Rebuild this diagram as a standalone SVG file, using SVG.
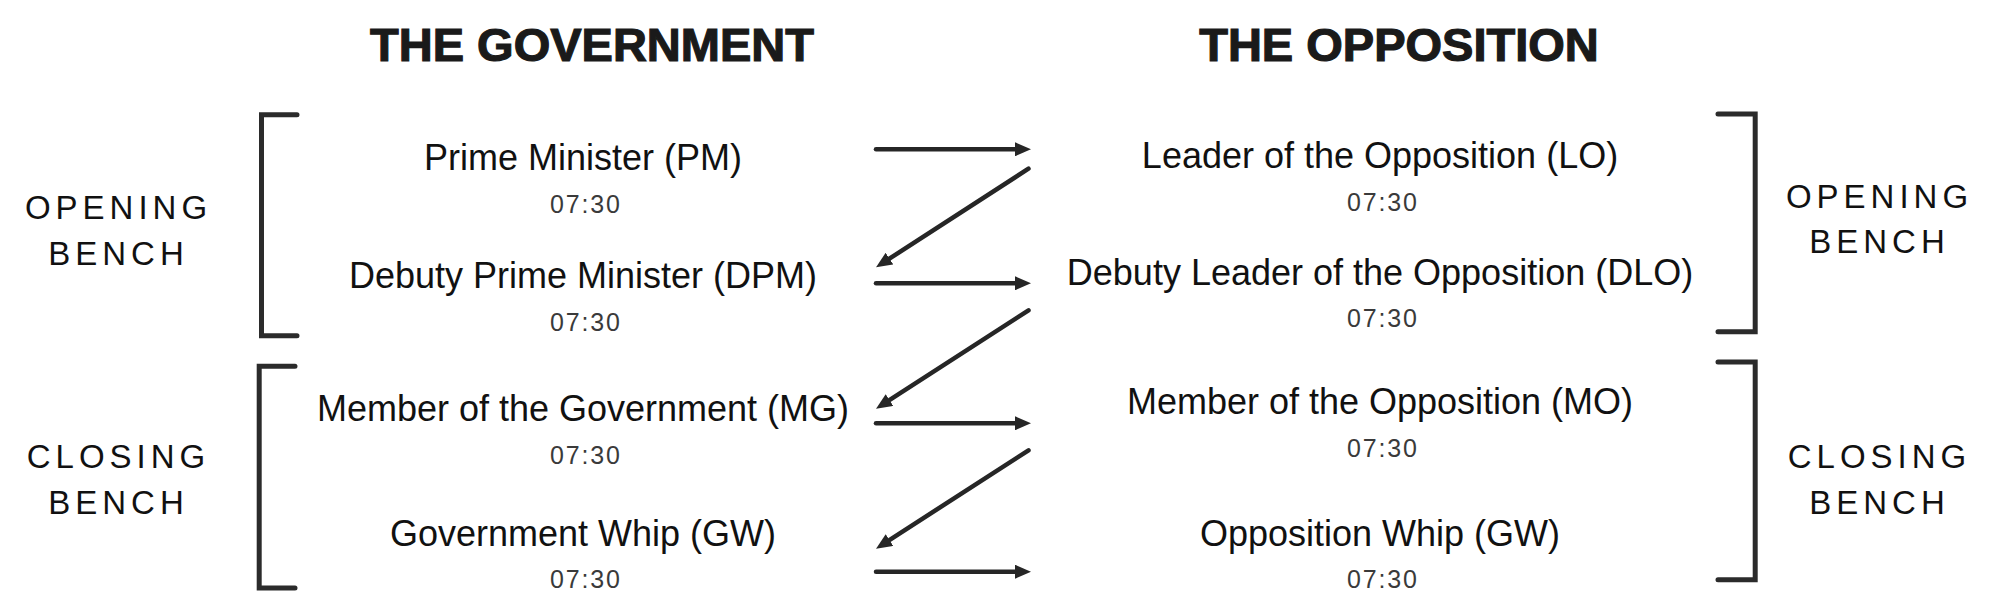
<svg xmlns="http://www.w3.org/2000/svg" width="2016" height="613" viewBox="0 0 2016 613">
  <style>
    .head { font-family: "Liberation Sans", Arial, sans-serif; font-weight: bold; font-size: 47px; fill: #1a1a1a; stroke: #1a1a1a; stroke-width: 1.2; text-anchor: middle; }
    .title { font-family: "Liberation Sans", Arial, sans-serif; font-size: 36px; fill: #111; text-anchor: middle; }
    .time { font-family: "Liberation Sans", Arial, sans-serif; font-size: 25px; fill: #3a3a3a; text-anchor: middle; }
    .bench { font-family: "Liberation Sans", Arial, sans-serif; font-size: 33px; fill: #111; letter-spacing: 5px; text-anchor: middle; }
    .bracket { fill: none; stroke: #2b2b2b; stroke-width: 5; stroke-linecap: round; stroke-linejoin: miter; }
    .arrow { fill: none; stroke: #262626; stroke-width: 4.5; stroke-linecap: round; marker-end: url(#head); }
  </style>
  <defs>
    <marker id="head" markerUnits="userSpaceOnUse" viewBox="0 0 16 14" markerWidth="16" markerHeight="14" refX="2" refY="7" orient="auto">
      <path d="M0,0 L16,7 L0,14 Z" fill="#262626"/>
    </marker>
  </defs>
  <rect width="2016" height="613" fill="#ffffff"/>

  <g id="headings">
    <text class="head" x="592" y="61">THE GOVERNMENT</text>
    <text class="head" x="1399" y="61">THE OPPOSITION</text>
  </g>

  <g id="gov-opening-bench">
    <polyline class="bracket" points="297,114.7 261.5,114.7 261.5,335.8 297,335.8"/>
    <text class="bench" x="118.5" y="219">OPENING</text>
    <text class="bench" x="118.5" y="264.5">BENCH</text>
  </g>
  <g id="gov-closing-bench">
    <polyline class="bracket" points="295,366.3 259.2,366.3 259.2,588 295,588"/>
    <text class="bench" x="118.5" y="468.3">CLOSING</text>
    <text class="bench" x="118.5" y="513.7">BENCH</text>
  </g>
  <g id="opp-opening-bench">
    <polyline class="bracket" points="1718,114 1755.2,114 1755.2,331.7 1718,331.7"/>
    <text class="bench" x="1879.5" y="208">OPENING</text>
    <text class="bench" x="1879.5" y="253.3">BENCH</text>
  </g>
  <g id="opp-closing-bench">
    <polyline class="bracket" points="1718,362 1755.2,362 1755.2,579.7 1718,579.7"/>
    <text class="bench" x="1879.5" y="468">CLOSING</text>
    <text class="bench" x="1879.5" y="513.7">BENCH</text>
  </g>

  <g id="node-pm">
    <text class="title" x="583" y="170">Prime Minister (PM)</text>
    <text class="time" x="585" y="213" textLength="70" lengthAdjust="spacing">07:30</text>
  </g>
  <g id="node-dpm">
    <text class="title" x="583" y="287.5">Debuty Prime Minister (DPM)</text>
    <text class="time" x="585" y="330.5" textLength="70" lengthAdjust="spacing">07:30</text>
  </g>
  <g id="node-mg">
    <text class="title" x="583" y="420.5">Member of the Government (MG)</text>
    <text class="time" x="585" y="464" textLength="70" lengthAdjust="spacing">07:30</text>
  </g>
  <g id="node-gw">
    <text class="title" x="583" y="546">Government Whip (GW)</text>
    <text class="time" x="585" y="588" textLength="70" lengthAdjust="spacing">07:30</text>
  </g>

  <g id="node-lo">
    <text class="title" x="1380" y="167.5">Leader of the Opposition (LO)</text>
    <text class="time" x="1382" y="211" textLength="70" lengthAdjust="spacing">07:30</text>
  </g>
  <g id="node-dlo">
    <text class="title" x="1380" y="284.5">Debuty Leader of the Opposition (DLO)</text>
    <text class="time" x="1382" y="327" textLength="70" lengthAdjust="spacing">07:30</text>
  </g>
  <g id="node-mo">
    <text class="title" x="1380" y="413.5">Member of the Opposition (MO)</text>
    <text class="time" x="1382" y="457" textLength="70" lengthAdjust="spacing">07:30</text>
  </g>
  <g id="node-ow">
    <text class="title" x="1380" y="546">Opposition Whip (GW)</text>
    <text class="time" x="1382" y="588" textLength="70" lengthAdjust="spacing">07:30</text>
  </g>

  <g id="connectors">
    <line class="arrow" x1="876" y1="149.3" x2="1017" y2="149.3"/>
    <line class="arrow" x1="1028.5" y1="168.7" x2="887.8" y2="259.7"/>
    <line class="arrow" x1="876" y1="283.3" x2="1017" y2="283.3"/>
    <line class="arrow" x1="1028.5" y1="310.3" x2="887.8" y2="401.1"/>
    <line class="arrow" x1="876" y1="423.3" x2="1017" y2="423.3"/>
    <line class="arrow" x1="1028.5" y1="450.3" x2="887.8" y2="541.1"/>
    <line class="arrow" x1="876" y1="571.7" x2="1017" y2="571.7"/>
  </g>
</svg>
